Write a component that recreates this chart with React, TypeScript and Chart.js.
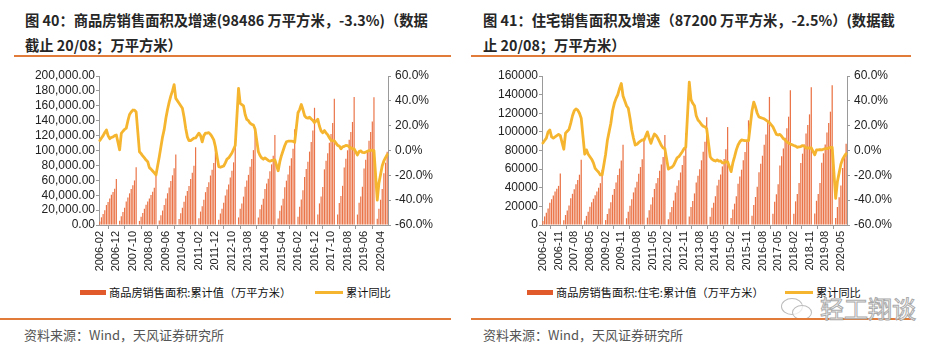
import React, { useEffect, useRef } from 'react';
import { Chart, registerables } from 'chart.js';
Chart.register(...registerables);

const N = null;

// Monthly categories 2006-02 .. 2020-08 (January has no data)
const months: string[] = [];
for (let y = 2006; y <= 2020; y++) {
  for (let m = 1; m <= 12; m++) {
    if (y === 2006 && m < 2) continue;
    if (y === 2020 && m > 8) break;
    months.push(`${y}-${String(m).padStart(2, '0')}`);
  }
}

const leftTickLabels = ['2006-02', '2006-12', '2007-10', '2008-08', '2009-06', '2010-04', '2011-02', '2011-12', '2012-10', '2013-08', '2014-06', '2015-04', '2016-02', '2016-12', '2017-10', '2018-08', '2019-06', '2020-04'];
const rightTickLabels = ['2006-02', '2006-11', '2007-08', '2008-05', '2009-02', '2009-11', '2010-08', '2011-05', '2012-02', '2012-11', '2013-08', '2014-05', '2015-02', '2015-11', '2016-08', '2017-05', '2018-02', '2018-11', '2019-08', '2020-05'];

// 商品房销售面积:累计值 (万平方米)
const commercialArea: (number | null)[] = [
  4800, 10300, 14800, 19800, 26800, 31000, 35500, 40600, 44300, 48500, 61857,
  N, 5600, 11900, 17400, 23300, 31600, 37000, 42500, 48300, 53500, 59800, 77355,
  N, 5500, 11000, 16000, 21800, 27100, 31500, 35600, 40300, 44700, 50100, 65970,
  N, 5900, 13000, 19400, 27000, 35700, 42600, 50200, 59000, 66700, 76100, 94755,
  N, 8200, 15900, 23200, 31100, 39400, 45500, 52300, 61900, 70000, 79500, 104349,
  N, 9000, 18000, 25200, 34000, 44100, 51000, 57400, 66400, 74000, 83200, 109946,
  N, 6900, 15600, 21900, 29700, 39600, 47600, 54400, 63700, 72800, 84100, 111304,
  N, 10200, 21800, 29000, 38100, 51400, 59700, 67300, 78200, 88600, 100500, 130551,
  N, 10200, 21000, 27300, 35300, 48400, 55600, 62100, 72000, 81400, 93100, 120649,
  N, 8600, 19000, 26200, 35300, 50600, 59500, 67800, 79400, 89500, 102300, 128495,
  N, 11200, 24500, 34100, 46700, 64300, 75100, 85000, 98500, 111400, 126800, 157349,
  N, 14100, 29000, 38300, 50900, 74700, 86300, 96400, 110300, 122100, 136800, 169408,
  N, 14100, 29600, 38900, 52600, 77100, 88800, 100300, 114300, 124800, 138300, 171654,
  N, 14000, 29800, 38300, 51500, 75800, 87600, 98800, 113200, 125000, 139000, 171558,
  N, 8475, 21978, 33944, 48311, 69404, 83641, 98486,
];

// 累计同比 (%)
const commercialYoY: (number | null)[] = [
  8, 10, 12, 14.5, 16.5, 12, 9.5, 10.5, 11, 12, 12.5,
  N, 0.5, 13.8, 15.5, 17, 18, 24, 29, 31, 32.6, 32.5, 31,
  N, -1, -2.5, -4.4, -6, -7.7, -9, -13.8, -15, -16.5, -18, -19.7,
  N, -5, 3, 11, 17, 26, 33, 39, 44, 48, 53, 42,
  N, 38, 36, 34, 27, 18, 11, 8, 8, 9, 10, 10.1,
  N, 14, 12, 7, 12, 14, 14, 14.4, 13, 11, 8.5, 3,
  N, -13, -13.5, -13, -12.5, -10, -7, -6, -4, -2, 1, 4,
  N, 50, 38, 37, 36, 29, 25, 24, 22, 21, 20.5, 17.3,
  N, -1, -4, -6, -7, -6, -7, -8, -8.6, -8, -8, -7.6,
  N, -16.3, -9, -4, 0, 4, 7, 7.5, 7.5, 7.5, 7.4, 6.5,
  N, 30.4, 33, 37, 33, 28, 26.4, 26, 26.9, 25.4, 24.3, 22.5,
  N, 25.1, 19.5, 15.7, 14.3, 16.1, 14, 12.7, 10.3, 8.2, 7.9, 7.7,
  N, 4.1, 3.6, 1.3, 2.9, 3.3, 4.2, 4, 2.9, 2.2, 1.4, 1.3,
  N, -3.6, -0.9, -0.3, -1.6, -1.8, -1.3, -0.6, -0.1, 0.1, 0.2, -0.1,
  N, -39.9, -26.3, -19.3, -12.3, -8.4, -5.7, -3.3,
];

// 商品房销售面积:住宅:累计值 (万平方米)
const residentialArea: (number | null)[] = [
  4300, 9200, 13200, 17700, 24000, 27700, 31600, 36000, 39000, 42000, 55423,
  N, 5000, 10700, 15700, 21000, 28600, 33500, 38400, 43700, 48300, 54000, 70136,
  N, 4900, 9800, 14300, 19500, 24300, 28200, 31900, 36100, 40000, 44900, 59280,
  N, 5300, 11800, 17600, 24500, 32400, 38700, 45600, 53600, 60600, 69200, 86185,
  N, 7300, 14100, 20600, 27600, 35000, 40400, 46400, 55000, 62200, 70700, 93377,
  N, 7900, 15800, 22100, 29800, 38700, 44800, 50400, 58300, 65000, 73100, 96528,
  N, 6100, 13700, 19300, 26200, 35000, 42100, 48100, 56400, 64400, 74400, 98468,
  N, 9100, 19400, 25800, 33900, 45700, 53000, 59800, 69500, 78700, 89300, 115723,
  N, 8900, 18500, 23900, 30900, 42400, 48600, 54200, 62900, 71000, 81300, 105188,
  N, 7500, 16700, 22900, 30900, 44400, 52200, 59400, 69500, 78400, 89700, 112412,
  N, 10000, 21600, 30100, 41000, 56600, 65800, 74400, 86100, 97300, 110600, 137540,
  N, 12200, 25100, 33000, 43800, 64000, 73800, 82200, 93800, 103900, 116300, 144789,
  N, 12100, 25400, 33300, 45000, 66600, 76600, 86500, 98300, 107300, 118800, 147929,
  N, 12300, 26000, 33400, 45100, 66800, 77000, 86500, 99200, 109500, 121700, 150144,
  N, 7500, 19300, 29700, 42300, 61100, 73900, 87200,
];

const residentialYoY: (number | null)[] = [
  6, 8, 10, 15, 16.5, 11, 10, 11, 12, 13, 12,
  N, 1, 14, 15.5, 17, 22, 28, 32, 33.5, 32.5, 30, 26,
  N, -3, 0.5, -3, -5, -7, -10, -14.4, -16, -17.5, -19.7, -19.7,
  N, -3, 8, 15, 22, 32, 38, 42, 45, 50, 54, 43.9,
  N, 36, 34, 26, 16.5, 10, 4.4, 5, 6.5, 7.5, 8.5, 8.3,
  N, 15, 10, 5.8, 10, 13.3, 12, 9.8, 7, 4, 2, 1.5,
  N, -15, -14, -13.5, -12, -9, -6, -5, -3, -1, 1.5, 2.6,
  N, 55, 41, 38, 36, 28, 24.6, 23, 21, 19.5, 19, 17.5,
  N, -5, -7, -8, -8.5, -7.5, -8.5, -8.3, -10, -10, -9, -9.1,
  N, -17, -10, -5, 0.5, 4.4, 7, 8.5, 8.2, 7.9, 7.9, 8,
  N, 32, 39, 35, 30, 27, 26.5, 26, 25.5, 24.5, 23.5, 22.4,
  N, 19, 16, 13, 12.5, 13, 11.5, 9.5, 8.5, 7, 6, 5.3,
  N, 4, 3.5, 2.5, 3, 3.2, 4, 3.5, 2, 2, 2, 2.2,
  N, -3.5, 0.4, 0.5, 0.8, 0.5, 1, 1.5, 1.5, 2, 2.5, 2.5,
  N, -38.5, -25, -18, -11, -7, -4.5, -2.5,
];

const BAR_COLOR = '#EA7447';
const SWATCH_COLOR = '#E05A2B';
const LINE_COLOR = '#F5B52E';
const AXIS_COLOR = '#9A9A9A';
const LATIN = '"Liberation Sans", Arial, sans-serif';
const CJK = '"Noto Sans CJK SC", "Noto Sans", sans-serif';

type ComboProps = {
  area: (number | null)[];
  yoy: (number | null)[];
  tickLabels: string[];
  leftMax: number;
  leftFormat: (v: number) => string;
  leftAxisWidth: number;
  rightAxisWidth: number;
  left: number;
};

function ComboChart(p: ComboProps) {
  const ref = useRef<HTMLCanvasElement>(null);
  useEffect(() => {
    if (!ref.current) return;
    const shown = new Set(p.tickLabels);
    const chart = new Chart(ref.current, {
      type: 'bar',
      data: {
        labels: months,
        datasets: [
          {
            type: 'bar',
            data: p.area,
            yAxisID: 'y',
            backgroundColor: BAR_COLOR,
            barPercentage: 0.72,
            categoryPercentage: 1,
            order: 2,
          } as any,
          {
            type: 'line',
            data: p.yoy,
            yAxisID: 'y1',
            borderColor: LINE_COLOR,
            backgroundColor: LINE_COLOR,
            borderWidth: 2.8,
            pointRadius: 0,
            spanGaps: true,
            tension: 0,
            borderJoinStyle: 'round',
            borderCapStyle: 'round',
            order: 1,
          } as any,
        ],
      },
      options: {
        animation: false,
        responsive: false,
        devicePixelRatio: 1,
        layout: { padding: { top: 16, left: 0, right: 0, bottom: 0 } },
        plugins: { legend: { display: false }, tooltip: { enabled: false }, title: { display: false } },
        scales: {
          x: {
            offset: true,
            grid: { display: true, drawOnChartArea: false, drawTicks: true, tickLength: 4, color: AXIS_COLOR },
            border: { color: AXIS_COLOR },
            ticks: {
              autoSkip: false,
              minRotation: 90,
              maxRotation: 90,
              padding: 2,
              color: '#222',
              font: { family: LATIN, size: 11 },
              callback: (_v: any, i: number) => (shown.has(months[i]) ? months[i] : null),
            },
            afterFit: (s: any) => { s.height = 55; },
          },
          y: {
            position: 'left',
            min: 0,
            max: p.leftMax,
            grid: { display: true, drawOnChartArea: false, tickLength: 3, color: AXIS_COLOR },
            border: { color: AXIS_COLOR },
            ticks: {
              stepSize: 20000,
              autoSkip: false,
              padding: 1,
              color: '#222',
              font: { family: LATIN, size: 12 },
              callback: (v: any) => p.leftFormat(Number(v)),
            },
            afterFit: (s: any) => { s.width = p.leftAxisWidth; },
          },
          y1: {
            position: 'right',
            min: -60,
            max: 60,
            grid: { display: true, drawOnChartArea: false, tickLength: 3, color: AXIS_COLOR },
            border: { color: AXIS_COLOR },
            ticks: {
              stepSize: 20,
              autoSkip: false,
              padding: 4,
              color: '#222',
              font: { family: LATIN, size: 12 },
              callback: (v: any) => Number(v).toFixed(1) + '%',
            },
            afterFit: (s: any) => { s.width = p.rightAxisWidth; },
          },
        },
      } as any,
    });
    return () => chart.destroy();
  }, []);
  return (
    <canvas
      ref={ref}
      width={471}
      height={220}
      style={{ position: 'absolute', left: p.left, top: 60, width: 471, height: 220 }}
    />
  );
}

const titleStyle: React.CSSProperties = {
  position: 'absolute',
  fontFamily: CJK,
  fontWeight: 700,
  fontSize: 14.3,
  lineHeight: '25px',
  color: '#262626',
  whiteSpace: 'nowrap',
};
const legendText: React.CSSProperties = {
  position: 'absolute',
  fontFamily: CJK,
  fontSize: 11.2,
  lineHeight: '14px',
  color: '#111',
  whiteSpace: 'nowrap',
};
const sourceStyle: React.CSSProperties = {
  position: 'absolute',
  fontFamily: CJK,
  fontSize: 13,
  lineHeight: '16px',
  color: '#555',
  whiteSpace: 'nowrap',
};

export default function App() {
  return (
    <div style={{ position: 'absolute', left: 0, top: 0, width: 942, height: 353, background: '#fff', overflow: 'hidden' }}>
      {/* Titles */}
      <div style={{ ...titleStyle, left: 25, top: 7 }}>
        图 40：商品房销售面积及增速(98486 万平方米，-3.3%)（数据
        <br />
        截止 20/08；万平方米）
      </div>
      <div style={{ ...titleStyle, left: 483, top: 7 }}>
        图 41：住宅销售面积及增速（87200 万平方米，-2.5%）(数据截
        <br />
        止 20/08；万平方米）
      </div>
      <div style={{ position: 'absolute', left: 14, top: 55, width: 437, height: 2, background: '#E07B39' }} />
      <div style={{ position: 'absolute', left: 471, top: 55, width: 440, height: 2, background: '#E07B39' }} />

      <ComboChart
        area={commercialArea}
        yoy={commercialYoY}
        tickLabels={leftTickLabels}
        leftMax={200000}
        leftFormat={(v) => v.toLocaleString('en-US', { minimumFractionDigits: 2, maximumFractionDigits: 2 })}
        leftAxisWidth={99}
        rightAxisWidth={83}
        left={0}
      />
      <ComboChart
        area={residentialArea}
        yoy={residentialYoY}
        tickLabels={rightTickLabels}
        leftMax={160000}
        leftFormat={(v) => String(v)}
        leftAxisWidth={71}
        rightAxisWidth={95}
        left={471}
      />

      {/* Legends */}
      <div style={{ position: 'absolute', left: 80, top: 290, width: 26, height: 5, background: SWATCH_COLOR }} />
      <div style={{ ...legendText, left: 109, top: 285 }}>商品房销售面积:累计值（万平方米）</div>
      <div style={{ position: 'absolute', left: 315, top: 291, width: 28, height: 3, background: LINE_COLOR }} />
      <div style={{ ...legendText, left: 346, top: 285 }}>累计同比</div>

      <div style={{ position: 'absolute', left: 527, top: 290, width: 26, height: 5, background: SWATCH_COLOR }} />
      <div style={{ ...legendText, left: 556, top: 285 }}>商品房销售面积:住宅:累计值（万平方米）</div>
      <div style={{ position: 'absolute', left: 785, top: 291, width: 28, height: 3, background: LINE_COLOR }} />
      <div style={{ ...legendText, left: 816, top: 285 }}>累计同比</div>

      {/* Watermark */}
      <div style={{ position: 'absolute', left: 781, top: 298, width: 20, height: 15, border: '1.5px solid #bbb', borderRadius: '50%', background: 'rgba(255,255,255,0.7)' }} />
      <div style={{ position: 'absolute', left: 792, top: 305, width: 18, height: 13, border: '1.5px solid #bbb', borderRadius: '50%', background: 'rgba(255,255,255,0.7)' }} />
      <div style={{ position: 'absolute', left: 820, top: 294, fontFamily: CJK, fontSize: 24, lineHeight: '28px', color: 'rgba(255,255,255,0.85)', WebkitTextStroke: '1px #aaa', whiteSpace: 'nowrap', zIndex: 2 } as any}>轻工翔谈</div>

      {/* Bottom rules and sources */}
      <div style={{ position: 'absolute', left: 0, top: 318, width: 451, height: 2, background: '#E07B39' }} />
      <div style={{ position: 'absolute', left: 471, top: 318, width: 440, height: 2, background: '#E07B39', zIndex: 1 }} />
      <div style={{ ...sourceStyle, left: 24, top: 327 }}>资料来源：Wind，天风证券研究所</div>
      <div style={{ ...sourceStyle, left: 483, top: 327 }}>资料来源：Wind，天风证券研究所</div>
    </div>
  );
}
